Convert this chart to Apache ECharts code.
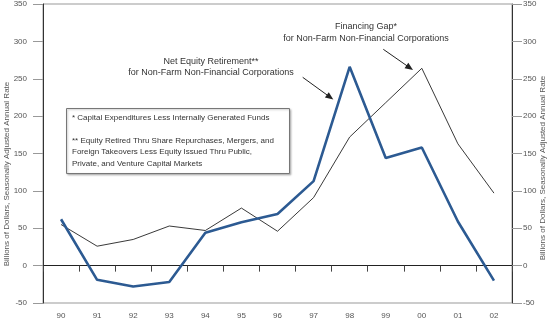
<!DOCTYPE html>
<html><head><meta charset="utf-8">
<script src="https://cdn.jsdelivr.net/npm/echarts@6/dist/echarts.min.js"></script>
<style>html,body{margin:0;padding:0;background:#fff}#c{width:550px;height:324px}</style>
</head><body><div id="c"></div>
<script>
var years = ['90','91','92','93','94','95','96','97','98','99','00','01','02'];
var netEquityRetirement = [62, -19, -28, -22, 44, 58, 69, 113, 266, 144, 158, 59, -20];
var financingGap = [55, 26, 35, 53, 47, 77, 46, 91, 172, 218, 264, 163, 97];
var yTicks = [-50, 0, 50, 100, 150, 200, 250, 300, 350];
var axisName = 'Billions of Dollars, Seasonally Adjusted Annual Rate';
var noteLines = ['* Capital Expenditures Less Internally Generated Funds', '',
  '** Equity Retired Thru Share Repurchases, Mergers, and',
  'Foreign Takeovers Less Equity Issued Thru Public,',
  'Private, and Venture Capital Markets'];

var FONT = '"Liberation Sans", Arial, Helvetica, sans-serif';
var chart = echarts.init(document.getElementById('c'), null, {renderer: 'canvas'});

function arrow(x1, y1, x2, y2) {
  var dx = x2 - x1, dy = y2 - y1, L = Math.sqrt(dx*dx + dy*dy);
  var ux = dx / L, uy = dy / L, hl = 8, hw = 3.3;
  var bx = x2 - ux*hl, by = y2 - uy*hl;
  return [
    {type: 'line', shape: {x1: x1, y1: y1, x2: bx + ux, y2: by + uy}, style: {stroke: '#222', lineWidth: 1}, z: 100},
    {type: 'polygon', shape: {points: [[x2, y2], [bx - uy*hw, by + ux*hw], [bx + uy*hw, by - ux*hw]]}, style: {fill: '#222'}, z: 100}
  ];
}

var yAxisCommon = {
  type: 'value', min: -50, max: 350, interval: 50,
  axisLine: {show: true, lineStyle: {color: '#333', width: 1}},
  axisTick: {show: true, length: 10, lineStyle: {color: '#999'}},
  splitLine: {show: false},
  axisLabel: {fontSize: 8, color: '#555', fontFamily: FONT,
    formatter: function (v) { return yTicks.indexOf(v) >= 0 ? String(v) : ''; }}
};

var graphics = [
  {type: 'text', x: 7, y: 174, rotation: Math.PI/2, z: 100,
   style: {text: axisName, fontSize: 8, fill: '#555', fontFamily: FONT, textAlign: 'center', textVerticalAlign: 'middle'}},
  {type: 'text', x: 543, y: 168, rotation: Math.PI/2, z: 100,
   style: {text: axisName, fontSize: 8, fill: '#555', fontFamily: FONT, textAlign: 'center', textVerticalAlign: 'middle'}},
  {type: 'rect', shape: {x: 66.5, y: 108.5, width: 223, height: 65}, z: 90,
   style: {fill: '#fff', stroke: '#777', lineWidth: 1, shadowColor: 'rgba(0,0,0,0.25)', shadowBlur: 2, shadowOffsetX: 1, shadowOffsetY: 1}},
  {type: 'text', x: 72, y: 112, z: 100,
   style: {text: noteLines.join('\n'), fontSize: 8, lineHeight: 11.4, fill: '#333', fontFamily: FONT}},
  {type: 'text', x: 211, y: 56, z: 100,
   style: {text: 'Net Equity Retirement**\nfor Non-Farm Non-Financial Corporations', fontSize: 9, lineHeight: 11, fill: '#333', fontFamily: FONT, textAlign: 'center'}},
  {type: 'text', x: 366, y: 21, z: 100,
   style: {text: 'Financing Gap*\nfor Non-Farm Non-Financial Corporations', fontSize: 9, lineHeight: 11.5, fill: '#333', fontFamily: FONT, textAlign: 'center'}}
].concat(arrow(302.7, 77.3, 333.3, 99.5)).concat(arrow(383.3, 49.3, 413, 70));

chart.setOption({
  animation: false,
  backgroundColor: '#fff',
  grid: {left: 43, right: 38, top: 3, bottom: 21, show: true, borderColor: '#999', borderWidth: 1},
  xAxis: [{
    type: 'category', data: years, boundaryGap: true,
    axisLine: {show: true, onZero: true, lineStyle: {color: '#222', width: 1}},
    axisTick: {show: true, length: 6, lineStyle: {color: '#444'}},
    axisLabel: {show: false}
  }, {
    type: 'category', data: years, boundaryGap: true, position: 'bottom',
    axisLine: {show: false, onZero: false}, axisTick: {show: false},
    axisLabel: {fontSize: 8, color: '#555', fontFamily: FONT, margin: 9}
  }],
  yAxis: [
    Object.assign({}, yAxisCommon, {position: 'left', axisLabel: Object.assign({}, yAxisCommon.axisLabel, {margin: 16})}),
    Object.assign({}, yAxisCommon, {position: 'right', axisLabel: Object.assign({}, yAxisCommon.axisLabel, {margin: 11})})
  ],
  series: [
    {name: 'Financing Gap', type: 'line', data: financingGap, symbol: 'none', z: 3,
     lineStyle: {color: '#222', width: 0.9}},
    {name: 'Net Equity Retirement', type: 'line', data: netEquityRetirement, symbol: 'none', z: 4,
     lineStyle: {color: '#2c5a92', width: 2.6}}
  ],
  graphic: graphics
});
</script></body></html>
